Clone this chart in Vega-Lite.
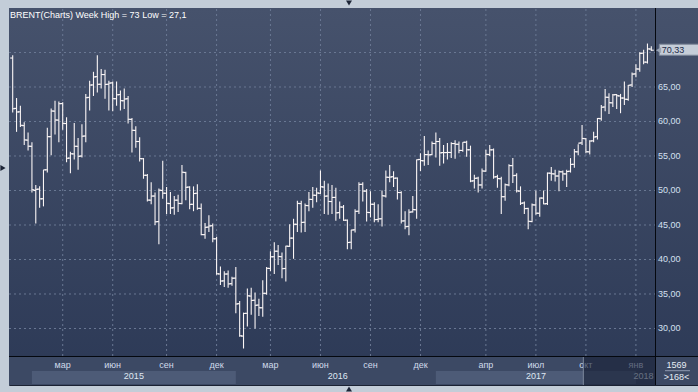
{
"$schema":"https://vega.github.io/schema/vega-lite/v6.json",
"width":689,"height":377,"autosize":"none",
"padding":{"left":9,"top":8,"right":0,"bottom":7},
"background":"#c3cdd8",
"config":{"view":{"stroke":"#1b2233","strokeWidth":1},"font":"Liberation Sans","locale":{"number":{"decimal":",","thousands":" ","grouping":[3],"currency":["",""]}}},
"datasets":{
"bars":[
{"n":0,"d":"2014-12-08","o":69.2,"h":69.6,"l":61.3,"c":61.85},
{"n":1,"d":"2014-12-15","o":61.9,"h":63.4,"l":58.5,"c":61.38},
{"n":2,"d":"2014-12-22","o":61.4,"h":62.3,"l":59.2,"c":59.45},
{"n":3,"d":"2014-12-29","o":59.4,"h":59.9,"l":56.6,"c":57.33},
{"n":4,"d":"2015-01-02","o":57.3,"h":58.4,"l":55.8,"c":56.42},
{"n":5,"d":"2015-01-05","o":56.4,"h":57.0,"l":49.7,"c":50.11},
{"n":6,"d":"2015-01-12","o":50.0,"h":50.8,"l":45.2,"c":50.17},
{"n":7,"d":"2015-01-19","o":50.2,"h":50.6,"l":47.5,"c":48.79},
{"n":8,"d":"2015-01-26","o":48.8,"h":53.0,"l":47.7,"c":52.99},
{"n":9,"d":"2015-02-02","o":53.0,"h":59.1,"l":52.6,"c":57.80},
{"n":10,"d":"2015-02-09","o":57.8,"h":61.9,"l":55.1,"c":61.52},
{"n":11,"d":"2015-02-16","o":61.5,"h":63.0,"l":58.1,"c":60.22},
{"n":12,"d":"2015-02-23","o":60.2,"h":62.9,"l":57.0,"c":62.58},
{"n":13,"d":"2015-03-02","o":62.6,"h":62.8,"l":58.8,"c":59.73},
{"n":14,"d":"2015-03-09","o":59.7,"h":60.6,"l":54.1,"c":54.67},
{"n":15,"d":"2015-03-16","o":54.7,"h":55.6,"l":52.5,"c":55.32},
{"n":16,"d":"2015-03-23","o":55.3,"h":59.8,"l":54.5,"c":56.41},
{"n":17,"d":"2015-03-30","o":56.4,"h":57.6,"l":53.0,"c":54.95},
{"n":18,"d":"2015-04-06","o":55.0,"h":59.6,"l":54.8,"c":57.87},
{"n":19,"d":"2015-04-13","o":57.9,"h":64.0,"l":57.0,"c":63.45},
{"n":20,"d":"2015-04-20","o":63.5,"h":65.9,"l":61.6,"c":65.28},
{"n":21,"d":"2015-04-27","o":65.3,"h":67.2,"l":63.7,"c":66.46},
{"n":22,"d":"2015-05-04","o":66.5,"h":69.6,"l":64.2,"c":65.39},
{"n":23,"d":"2015-05-11","o":65.4,"h":67.6,"l":64.8,"c":66.81},
{"n":24,"d":"2015-05-18","o":66.8,"h":67.5,"l":63.3,"c":65.37},
{"n":25,"d":"2015-05-25","o":65.4,"h":65.9,"l":61.6,"c":65.56},
{"n":26,"d":"2015-06-01","o":65.6,"h":65.8,"l":61.5,"c":63.31},
{"n":27,"d":"2015-06-08","o":63.3,"h":65.8,"l":62.3,"c":63.87},
{"n":28,"d":"2015-06-15","o":63.9,"h":64.5,"l":61.6,"c":63.02},
{"n":29,"d":"2015-06-22","o":63.0,"h":64.8,"l":61.8,"c":63.26},
{"n":30,"d":"2015-06-29","o":63.3,"h":63.7,"l":59.7,"c":60.32},
{"n":31,"d":"2015-07-06","o":60.3,"h":60.5,"l":55.5,"c":58.73},
{"n":32,"d":"2015-07-13","o":58.7,"h":59.3,"l":56.2,"c":57.10},
{"n":33,"d":"2015-07-20","o":57.1,"h":57.7,"l":54.2,"c":54.62},
{"n":34,"d":"2015-07-27","o":54.6,"h":54.7,"l":51.7,"c":52.21},
{"n":35,"d":"2015-08-03","o":52.2,"h":52.4,"l":48.4,"c":48.61},
{"n":36,"d":"2015-08-10","o":48.6,"h":51.2,"l":48.0,"c":49.19},
{"n":37,"d":"2015-08-17","o":49.2,"h":49.7,"l":45.0,"c":45.46},
{"n":38,"d":"2015-08-24","o":45.5,"h":50.3,"l":42.2,"c":50.05},
{"n":39,"d":"2015-08-31","o":50.0,"h":54.3,"l":48.8,"c":49.61},
{"n":40,"d":"2015-09-07","o":49.6,"h":50.5,"l":46.6,"c":48.14},
{"n":41,"d":"2015-09-14","o":48.1,"h":49.8,"l":46.6,"c":47.47},
{"n":42,"d":"2015-09-21","o":47.5,"h":49.2,"l":46.5,"c":48.60},
{"n":43,"d":"2015-09-28","o":48.6,"h":49.4,"l":46.9,"c":48.13},
{"n":44,"d":"2015-10-05","o":48.1,"h":53.7,"l":48.0,"c":52.65},
{"n":45,"d":"2015-10-12","o":52.6,"h":52.7,"l":48.6,"c":50.46},
{"n":46,"d":"2015-10-19","o":50.5,"h":50.6,"l":47.3,"c":47.99},
{"n":47,"d":"2015-10-26","o":48.0,"h":50.6,"l":47.0,"c":49.56},
{"n":48,"d":"2015-11-02","o":49.6,"h":50.9,"l":47.2,"c":47.42},
{"n":49,"d":"2015-11-09","o":47.4,"h":48.1,"l":43.5,"c":43.61},
{"n":50,"d":"2015-11-16","o":43.6,"h":45.3,"l":43.0,"c":44.66},
{"n":51,"d":"2015-11-23","o":44.7,"h":46.4,"l":44.0,"c":44.86},
{"n":52,"d":"2015-11-30","o":44.9,"h":45.2,"l":42.5,"c":43.00},
{"n":53,"d":"2015-12-07","o":43.0,"h":43.3,"l":37.8,"c":37.93},
{"n":54,"d":"2015-12-14","o":37.9,"h":39.0,"l":36.3,"c":36.88},
{"n":55,"d":"2015-12-21","o":36.9,"h":38.3,"l":36.0,"c":37.89},
{"n":56,"d":"2015-12-28","o":37.9,"h":38.4,"l":35.9,"c":36.46},
{"n":57,"d":"2015-12-31","o":36.5,"h":37.5,"l":36.2,"c":37.28},
{"n":58,"d":"2016-01-04","o":37.3,"h":38.9,"l":32.2,"c":33.55},
{"n":59,"d":"2016-01-11","o":33.6,"h":34.0,"l":28.8,"c":28.94},
{"n":60,"d":"2016-01-18","o":28.9,"h":32.3,"l":27.1,"c":32.18},
{"n":61,"d":"2016-01-25","o":32.2,"h":35.8,"l":30.3,"c":34.74},
{"n":62,"d":"2016-02-01","o":34.7,"h":35.9,"l":32.0,"c":34.06},
{"n":63,"d":"2016-02-08","o":34.1,"h":35.2,"l":30.0,"c":33.36},
{"n":64,"d":"2016-02-15","o":33.4,"h":34.3,"l":31.8,"c":33.01},
{"n":65,"d":"2016-02-22","o":33.0,"h":37.0,"l":31.7,"c":35.10},
{"n":66,"d":"2016-02-29","o":35.1,"h":38.9,"l":34.9,"c":38.72},
{"n":67,"d":"2016-03-07","o":38.7,"h":41.2,"l":38.3,"c":40.39},
{"n":68,"d":"2016-03-14","o":40.4,"h":42.5,"l":37.9,"c":41.20},
{"n":69,"d":"2016-03-21","o":41.2,"h":42.1,"l":39.2,"c":40.44},
{"n":70,"d":"2016-03-28","o":40.4,"h":41.0,"l":37.3,"c":38.67},
{"n":71,"d":"2016-04-04","o":38.7,"h":42.0,"l":36.8,"c":41.94},
{"n":72,"d":"2016-04-11","o":41.9,"h":45.1,"l":41.8,"c":43.10},
{"n":73,"d":"2016-04-18","o":43.1,"h":45.9,"l":40.1,"c":45.11},
{"n":74,"d":"2016-04-25","o":45.1,"h":48.5,"l":44.0,"c":48.13},
{"n":75,"d":"2016-05-02","o":48.1,"h":48.5,"l":43.9,"c":45.37},
{"n":76,"d":"2016-05-09","o":45.4,"h":48.1,"l":44.0,"c":47.83},
{"n":77,"d":"2016-05-16","o":47.8,"h":49.8,"l":47.0,"c":48.72},
{"n":78,"d":"2016-05-23","o":48.7,"h":50.5,"l":47.5,"c":49.32},
{"n":79,"d":"2016-05-30","o":49.3,"h":50.4,"l":48.3,"c":49.64},
{"n":80,"d":"2016-06-06","o":49.6,"h":52.9,"l":49.5,"c":50.54},
{"n":81,"d":"2016-06-13","o":50.5,"h":51.4,"l":46.6,"c":49.17},
{"n":82,"d":"2016-06-20","o":49.2,"h":51.0,"l":46.5,"c":48.41},
{"n":83,"d":"2016-06-27","o":48.4,"h":50.8,"l":46.6,"c":48.99},
{"n":84,"d":"2016-07-04","o":49.0,"h":50.4,"l":45.6,"c":46.76},
{"n":85,"d":"2016-07-11","o":46.8,"h":48.4,"l":45.9,"c":47.61},
{"n":86,"d":"2016-07-18","o":47.6,"h":47.9,"l":45.6,"c":45.69},
{"n":87,"d":"2016-07-25","o":45.7,"h":45.8,"l":41.5,"c":42.46},
{"n":88,"d":"2016-08-01","o":42.5,"h":44.3,"l":41.5,"c":44.27},
{"n":89,"d":"2016-08-08","o":44.3,"h":47.3,"l":43.9,"c":46.97},
{"n":90,"d":"2016-08-15","o":47.0,"h":51.2,"l":46.6,"c":50.88},
{"n":91,"d":"2016-08-22","o":50.9,"h":51.2,"l":48.4,"c":49.92},
{"n":92,"d":"2016-08-29","o":49.9,"h":50.2,"l":45.5,"c":46.83},
{"n":93,"d":"2016-09-05","o":46.8,"h":49.9,"l":46.1,"c":48.01},
{"n":94,"d":"2016-09-12","o":48.0,"h":48.3,"l":45.4,"c":45.77},
{"n":95,"d":"2016-09-19","o":45.8,"h":48.0,"l":45.4,"c":45.89},
{"n":96,"d":"2016-09-26","o":45.9,"h":50.0,"l":44.8,"c":49.24},
{"n":97,"d":"2016-10-03","o":49.2,"h":52.9,"l":49.0,"c":51.93},
{"n":98,"d":"2016-10-10","o":51.9,"h":53.7,"l":51.2,"c":51.95},
{"n":99,"d":"2016-10-17","o":52.0,"h":52.8,"l":50.5,"c":51.78},
{"n":100,"d":"2016-10-24","o":51.8,"h":51.9,"l":48.7,"c":49.71},
{"n":101,"d":"2016-10-31","o":49.7,"h":49.9,"l":45.2,"c":45.58},
{"n":102,"d":"2016-11-07","o":45.6,"h":47.0,"l":44.4,"c":44.75},
{"n":103,"d":"2016-11-14","o":44.8,"h":47.3,"l":43.5,"c":46.86},
{"n":104,"d":"2016-11-21","o":46.9,"h":49.2,"l":46.8,"c":47.24},
{"n":105,"d":"2016-11-28","o":47.2,"h":54.5,"l":45.9,"c":54.46},
{"n":106,"d":"2016-12-05","o":54.5,"h":55.4,"l":52.8,"c":54.33},
{"n":107,"d":"2016-12-12","o":54.3,"h":57.9,"l":53.6,"c":55.21},
{"n":108,"d":"2016-12-19","o":55.2,"h":55.8,"l":53.7,"c":55.16},
{"n":109,"d":"2016-12-26","o":55.2,"h":57.1,"l":55.1,"c":56.82},
{"n":110,"d":"2017-01-02","o":56.8,"h":58.4,"l":54.8,"c":57.10},
{"n":111,"d":"2017-01-09","o":57.1,"h":57.6,"l":53.6,"c":55.45},
{"n":112,"d":"2017-01-16","o":55.5,"h":56.6,"l":53.9,"c":55.49},
{"n":113,"d":"2017-01-23","o":55.5,"h":56.9,"l":54.5,"c":55.52},
{"n":114,"d":"2017-01-30","o":55.5,"h":57.0,"l":54.7,"c":56.81},
{"n":115,"d":"2017-02-06","o":56.8,"h":57.3,"l":54.6,"c":56.70},
{"n":116,"d":"2017-02-13","o":56.7,"h":57.1,"l":55.4,"c":55.81},
{"n":117,"d":"2017-02-20","o":55.8,"h":57.0,"l":55.6,"c":56.99},
{"n":118,"d":"2017-02-27","o":57.0,"h":57.2,"l":54.9,"c":55.90},
{"n":119,"d":"2017-03-06","o":55.9,"h":56.5,"l":51.2,"c":51.37},
{"n":120,"d":"2017-03-13","o":51.4,"h":52.3,"l":50.3,"c":51.76},
{"n":121,"d":"2017-03-20","o":51.8,"h":52.0,"l":49.7,"c":50.80},
{"n":122,"d":"2017-03-27","o":50.8,"h":53.2,"l":50.3,"c":52.83},
{"n":123,"d":"2017-04-03","o":52.8,"h":55.9,"l":52.7,"c":55.24},
{"n":124,"d":"2017-04-10","o":55.2,"h":56.6,"l":55.0,"c":55.89},
{"n":125,"d":"2017-04-17","o":55.9,"h":56.1,"l":51.7,"c":51.96},
{"n":126,"d":"2017-04-24","o":52.0,"h":52.3,"l":50.4,"c":51.73},
{"n":127,"d":"2017-05-01","o":51.7,"h":52.0,"l":46.6,"c":49.10},
{"n":128,"d":"2017-05-08","o":49.1,"h":51.0,"l":48.5,"c":50.84},
{"n":129,"d":"2017-05-15","o":50.8,"h":53.8,"l":50.6,"c":53.61},
{"n":130,"d":"2017-05-22","o":53.6,"h":54.7,"l":51.1,"c":52.15},
{"n":131,"d":"2017-05-29","o":52.2,"h":52.5,"l":49.7,"c":49.95},
{"n":132,"d":"2017-06-05","o":49.9,"h":50.6,"l":47.9,"c":48.15},
{"n":133,"d":"2017-06-12","o":48.2,"h":48.4,"l":46.6,"c":47.37},
{"n":134,"d":"2017-06-19","o":47.4,"h":47.5,"l":44.4,"c":45.54},
{"n":135,"d":"2017-06-26","o":45.5,"h":48.1,"l":45.4,"c":47.92},
{"n":136,"d":"2017-07-03","o":47.9,"h":50.0,"l":46.5,"c":46.71},
{"n":137,"d":"2017-07-10","o":46.7,"h":49.0,"l":46.2,"c":48.91},
{"n":138,"d":"2017-07-17","o":48.9,"h":50.0,"l":48.0,"c":48.06},
{"n":139,"d":"2017-07-24","o":48.1,"h":52.6,"l":47.9,"c":52.52},
{"n":140,"d":"2017-07-31","o":52.5,"h":53.4,"l":51.4,"c":52.42},
{"n":141,"d":"2017-08-07","o":52.4,"h":53.0,"l":51.3,"c":52.10},
{"n":142,"d":"2017-08-14","o":52.1,"h":52.9,"l":49.9,"c":52.72},
{"n":143,"d":"2017-08-21","o":52.7,"h":52.9,"l":51.4,"c":52.41},
{"n":144,"d":"2017-08-28","o":52.4,"h":53.0,"l":50.5,"c":52.75},
{"n":145,"d":"2017-09-04","o":52.8,"h":54.7,"l":52.6,"c":53.78},
{"n":146,"d":"2017-09-11","o":53.8,"h":56.0,"l":53.3,"c":55.62},
{"n":147,"d":"2017-09-18","o":55.6,"h":56.7,"l":55.1,"c":56.86},
{"n":148,"d":"2017-09-25","o":56.9,"h":59.5,"l":56.6,"c":57.54},
{"n":149,"d":"2017-10-02","o":57.5,"h":57.6,"l":55.4,"c":55.62},
{"n":150,"d":"2017-10-09","o":55.6,"h":57.3,"l":55.2,"c":57.17},
{"n":151,"d":"2017-10-16","o":57.2,"h":58.5,"l":57.0,"c":57.75},
{"n":152,"d":"2017-10-23","o":57.8,"h":60.5,"l":57.4,"c":60.44},
{"n":153,"d":"2017-10-30","o":60.4,"h":62.4,"l":60.1,"c":62.07},
{"n":154,"d":"2017-11-06","o":62.1,"h":64.7,"l":61.5,"c":63.52},
{"n":155,"d":"2017-11-13","o":63.5,"h":64.1,"l":61.1,"c":62.72},
{"n":156,"d":"2017-11-20","o":62.7,"h":64.0,"l":62.1,"c":63.86},
{"n":157,"d":"2017-11-27","o":63.9,"h":64.0,"l":61.8,"c":63.73},
{"n":158,"d":"2017-12-04","o":63.7,"h":64.0,"l":61.2,"c":63.40},
{"n":159,"d":"2017-12-11","o":63.4,"h":65.8,"l":62.4,"c":63.23},
{"n":160,"d":"2017-12-18","o":63.2,"h":65.3,"l":63.0,"c":65.25},
{"n":161,"d":"2017-12-25","o":65.3,"h":67.1,"l":65.0,"c":66.87},
{"n":162,"d":"2018-01-01","o":66.9,"h":68.3,"l":66.4,"c":67.62},
{"n":163,"d":"2018-01-08","o":67.6,"h":70.05,"l":67.2,"c":69.87},
{"n":164,"d":"2018-01-15","o":69.9,"h":70.4,"l":68.3,"c":68.61},
{"n":165,"d":"2018-01-22","o":68.6,"h":71.3,"l":68.4,"c":70.52},
{"n":166,"d":"2018-01-29","o":70.5,"h":70.9,"l":70.2,"c":70.33}
],
"months":[
{"n":13,"m":"мар"},{"n":26,"m":"июн"},{"n":40,"m":"сен"},{"n":53,"m":"дек"},
{"n":67,"m":"мар"},{"n":80,"m":"июн"},{"n":93,"m":"сен"},{"n":106,"m":"дек"},
{"n":123,"m":"апр"},{"n":136,"m":"июл"},{"n":149,"m":"окт"},{"n":162,"m":"янв"}
],
"years":[
{"year":"2015","from":5,"to":58,"mid":31.5},
{"year":"2016","from":58,"to":110,"mid":84.5},
{"year":"2017","from":110,"to":162,"mid":136},
{"year":"2018","from":162,"to":167,"mid":164}
],
"levels":[{"v":30},{"v":35},{"v":40},{"v":45},{"v":50},{"v":55},{"v":60},{"v":65},{"v":70}]
},
"layer":[
{"data":{"values":[{}]},
 "mark":{"type":"rect","fill":{"gradient":"linear","x1":0,"y1":0,"x2":0,"y2":1,"stops":[{"offset":0,"color":"#46526c"},{"offset":1,"color":"#2c3956"}]}},
 "encoding":{
  "x":{"datum":-0.96,"type":"quantitative","scale":{"domain":[-0.96,166.96],"range":[0,646],"nice":false,"zero":false},"axis":null},
  "x2":{"datum":178.2},
  "y":{"datum":76.449,"type":"quantitative","scale":{"domain":[26.014,76.449],"range":[348,0],"nice":false,"zero":false},"axis":null},
  "y2":{"datum":21.811}}},
{"data":{"values":[{}]},
 "mark":{"type":"rect","color":"#3c4964"},
 "encoding":{
  "x":{"datum":-0.96,"type":"quantitative","scale":{"domain":[-0.96,166.96],"range":[0,646],"nice":false,"zero":false},"axis":null},
  "x2":{"datum":178.2},
  "y":{"datum":25.942,"type":"quantitative","scale":{"domain":[26.014,76.449],"range":[348,0],"nice":false,"zero":false},"axis":null},
  "y2":{"datum":21.811}}},
{"data":{"name":"levels"},
 "mark":{"type":"rule","color":"#6a7893","strokeDash":[2,3],"strokeWidth":1},
 "encoding":{
  "y":{"field":"v","type":"quantitative","scale":{"domain":[26.014,76.449],"range":[348,0],"nice":false,"zero":false},"axis":null},
  "x":{"datum":-0.96,"type":"quantitative","scale":{"domain":[-0.96,166.96],"range":[0,646],"nice":false,"zero":false},"axis":null},
  "x2":{"datum":166.96}}},
{"data":{"name":"levels"},
 "transform":[{"filter":"datum.v <= 65"}],
 "mark":{"type":"text","align":"left","baseline":"middle","fontSize":9,"color":"#d4e0f0"},
 "encoding":{
  "y":{"field":"v","type":"quantitative","scale":{"domain":[26.014,76.449],"range":[348,0],"nice":false,"zero":false},"axis":null},
  "x":{"datum":167.74,"type":"quantitative","scale":{"domain":[-0.96,166.96],"range":[0,646],"nice":false,"zero":false},"axis":null},
  "text":{"field":"v","type":"quantitative","format":".2f"}}},
{"data":{"name":"months"},
 "mark":{"type":"rule","color":"#6a7893","strokeDash":[2,3],"strokeWidth":1},
 "encoding":{
  "x":{"field":"n","type":"quantitative","scale":{"domain":[-0.96,166.96],"range":[0,646],"nice":false,"zero":false},"axis":null},
  "y":{"datum":26.014,"type":"quantitative","scale":{"domain":[26.014,76.449],"range":[348,0],"nice":false,"zero":false},"axis":null},
  "y2":{"datum":76.449}}},
{"data":{"name":"years"},
 "transform":[{"filter":"datum.year == '2015' || datum.year == '2017'"}],
 "mark":{"type":"rect","color":"#4d5b77"},
 "encoding":{
  "x":{"field":"from","type":"quantitative","scale":{"domain":[-0.96,166.96],"range":[0,646],"nice":false,"zero":false},"axis":null},
  "x2":{"field":"to"},
  "y":{"datum":23.84,"type":"quantitative","scale":{"domain":[26.014,76.449],"range":[348,0],"nice":false,"zero":false},"axis":null},
  "y2":{"datum":21.956}}},
{"data":{"name":"years"},
 "mark":{"type":"text","align":"center","baseline":"alphabetic","fontSize":9,"color":"#dfe7f2"},
 "encoding":{
  "x":{"field":"mid","type":"quantitative","scale":{"domain":[-0.96,166.96],"range":[0,646],"nice":false,"zero":false},"axis":null},
  "y":{"datum":22.637,"type":"quantitative","scale":{"domain":[26.014,76.449],"range":[348,0],"nice":false,"zero":false},"axis":null},
  "text":{"field":"year"}}},
{"data":{"name":"months"},
 "mark":{"type":"text","align":"center","baseline":"alphabetic","fontSize":9,"color":"#d0dbeb"},
 "encoding":{
  "x":{"field":"n","type":"quantitative","scale":{"domain":[-0.96,166.96],"range":[0,646],"nice":false,"zero":false},"axis":null},
  "y":{"datum":24.232,"type":"quantitative","scale":{"domain":[26.014,76.449],"range":[348,0],"nice":false,"zero":false},"axis":null},
  "text":{"field":"m"}}},
{"data":{"values":[{}]},
 "mark":{"type":"rect","color":"#161e33","opacity":0.6},
 "encoding":{
  "x":{"datum":148.33,"type":"quantitative","scale":{"domain":[-0.96,166.96],"range":[0,646],"nice":false,"zero":false},"axis":null},
  "x2":{"datum":166.96},
  "y":{"datum":25.869,"type":"quantitative","scale":{"domain":[26.014,76.449],"range":[348,0],"nice":false,"zero":false},"axis":null},
  "y2":{"datum":21.811}}},
{"data":{"values":[{}]},
 "mark":{"type":"rule","color":"#7b879c","strokeWidth":1},
 "encoding":{
  "x":{"datum":148.33,"type":"quantitative","scale":{"domain":[-0.96,166.96],"range":[0,646],"nice":false,"zero":false},"axis":null},
  "y":{"datum":25.869,"type":"quantitative","scale":{"domain":[26.014,76.449],"range":[348,0],"nice":false,"zero":false},"axis":null},
  "y2":{"datum":21.811}}},
{"data":{"name":"bars"},
 "mark":{"type":"rule","color":"#fbf6f6","strokeWidth":1.1},
 "encoding":{
  "x":{"field":"n","type":"quantitative","scale":{"domain":[-0.96,166.96],"range":[0,646],"nice":false,"zero":false},"axis":null},
  "y":{"field":"l","type":"quantitative","scale":{"domain":[26.014,76.449],"range":[348,0],"nice":false,"zero":false},"axis":null},
  "y2":{"field":"h"}}},
{"data":{"name":"bars"},
 "mark":{"type":"rule","color":"#fbf6f6","strokeWidth":1.1,"xOffset":-2.5,"x2Offset":0},
 "encoding":{
  "x":{"field":"n","type":"quantitative","scale":{"domain":[-0.96,166.96],"range":[0,646],"nice":false,"zero":false},"axis":null},
  "x2":{"field":"n"},
  "y":{"field":"o","type":"quantitative","scale":{"domain":[26.014,76.449],"range":[348,0],"nice":false,"zero":false},"axis":null}}},
{"data":{"name":"bars"},
 "mark":{"type":"rule","color":"#fbf6f6","strokeWidth":1.1,"xOffset":0,"x2Offset":2.5},
 "encoding":{
  "x":{"field":"n","type":"quantitative","scale":{"domain":[-0.96,166.96],"range":[0,646],"nice":false,"zero":false},"axis":null},
  "x2":{"field":"n"},
  "y":{"field":"c","type":"quantitative","scale":{"domain":[26.014,76.449],"range":[348,0],"nice":false,"zero":false},"axis":null}}},
{"data":{"values":[{}]},
 "mark":{"type":"rule","color":"#05080f","strokeWidth":1},
 "encoding":{
  "x":{"datum":167.09,"type":"quantitative","scale":{"domain":[-0.96,166.96],"range":[0,646],"nice":false,"zero":false},"axis":null}}},
{"data":{"values":[{}]},
 "mark":{"type":"rule","color":"#05080f","strokeWidth":1},
 "encoding":{
  "y":{"datum":25.942,"type":"quantitative","scale":{"domain":[26.014,76.449],"range":[348,0],"nice":false,"zero":false},"axis":null}}},
{"data":{"values":[{}]},
 "mark":{"type":"text","align":"left","baseline":"alphabetic","fontSize":9,"color":"#ffffff","dx":1,"dy":10.3,"text":"BRENT(Charts) Week High = 73 Low = 27,1"},
 "encoding":{
  "x":{"datum":-0.96,"type":"quantitative","scale":{"domain":[-0.96,166.96],"range":[0,646],"nice":false,"zero":false},"axis":null},
  "y":{"datum":76.449,"type":"quantitative","scale":{"domain":[26.014,76.449],"range":[348,0],"nice":false,"zero":false},"axis":null}}},
{"data":{"name":"bars"},
 "transform":[{"filter":"datum.n == 166"}],
 "mark":{"type":"rect","fill":"#c5cdd8","stroke":"#7d889a","strokeWidth":1,"yOffset":-6,"y2Offset":5},
 "encoding":{
  "x":{"datum":168.08,"type":"quantitative","scale":{"domain":[-0.96,166.96],"range":[0,646],"nice":false,"zero":false},"axis":null},
  "x2":{"datum":179.5},
  "y":{"field":"c","type":"quantitative","scale":{"domain":[26.014,76.449],"range":[348,0],"nice":false,"zero":false},"axis":null},
  "y2":{"field":"c"}}},
{"data":{"name":"bars"},
 "transform":[{"filter":"datum.n == 166"}],
 "mark":{"type":"point","shape":"triangle-left","filled":true,"size":36,"color":"#9aa5b6","opacity":1},
 "encoding":{
  "x":{"datum":167.87,"type":"quantitative","scale":{"domain":[-0.96,166.96],"range":[0,646],"nice":false,"zero":false},"axis":null},
  "y":{"field":"c","type":"quantitative","scale":{"domain":[26.014,76.449],"range":[348,0],"nice":false,"zero":false},"axis":null}}},
{"data":{"name":"bars"},
 "transform":[{"filter":"datum.n == 166"}],
 "mark":{"type":"text","align":"left","baseline":"middle","fontSize":9,"color":"#1b2a48"},
 "encoding":{
  "x":{"datum":168.7,"type":"quantitative","scale":{"domain":[-0.96,166.96],"range":[0,646],"nice":false,"zero":false},"axis":null},
  "y":{"field":"c","type":"quantitative","scale":{"domain":[26.014,76.449],"range":[348,0],"nice":false,"zero":false},"axis":null},
  "text":{"field":"c","type":"quantitative","format":".2f"}}},
{"data":{"values":[{}]},
 "mark":{"type":"text","align":"center","baseline":"alphabetic","fontSize":9,"color":"#e6ecf5","text":"1569"},
 "encoding":{
  "x":{"datum":172.55,"type":"quantitative","scale":{"domain":[-0.96,166.96],"range":[0,646],"nice":false,"zero":false},"axis":null},
  "y":{"datum":24.232,"type":"quantitative","scale":{"domain":[26.014,76.449],"range":[348,0],"nice":false,"zero":false},"axis":null}}},
{"data":{"values":[{}]},
 "mark":{"type":"text","align":"center","baseline":"alphabetic","fontSize":9,"color":"#e6ecf5","text":">168<"},
 "encoding":{
  "x":{"datum":172.55,"type":"quantitative","scale":{"domain":[-0.96,166.96],"range":[0,646],"nice":false,"zero":false},"axis":null},
  "y":{"datum":22.535,"type":"quantitative","scale":{"domain":[26.014,76.449],"range":[348,0],"nice":false,"zero":false},"axis":null}}},
{"data":{"values":[{}]},
 "mark":{"type":"rule","color":"#8f9bb0","strokeWidth":1},
 "encoding":{
  "x":{"datum":169.56,"type":"quantitative","scale":{"domain":[-0.96,166.96],"range":[0,646],"nice":false,"zero":false},"axis":null},
  "x2":{"datum":176.06},
  "y":{"datum":23.884,"type":"quantitative","scale":{"domain":[26.014,76.449],"range":[348,0],"nice":false,"zero":false},"axis":null}}},
{"data":{"values":[{}]},
 "mark":{"type":"point","shape":"triangle-right","filled":true,"size":36,"color":"#1c2436","opacity":1},
 "encoding":{
  "x":{"datum":-2.52,"type":"quantitative","scale":{"domain":[-0.96,166.96],"range":[0,646],"nice":false,"zero":false},"axis":null},
  "y":{"datum":53.26,"type":"quantitative","scale":{"domain":[26.014,76.449],"range":[348,0],"nice":false,"zero":false},"axis":null}}},
{"data":{"values":[{}]},
 "mark":{"type":"point","shape":"triangle-down","filled":true,"size":36,"color":"#1c2436","opacity":1},
 "encoding":{
  "x":{"datum":87.42,"type":"quantitative","scale":{"domain":[-0.96,166.96],"range":[0,646],"nice":false,"zero":false},"axis":null},
  "y":{"datum":77.174,"type":"quantitative","scale":{"domain":[26.014,76.449],"range":[348,0],"nice":false,"zero":false},"axis":null}}},
{"data":{"values":[{}]},
 "mark":{"type":"point","shape":"triangle-up","filled":true,"size":36,"color":"#1c2436","opacity":1},
 "encoding":{
  "x":{"datum":87.42,"type":"quantitative","scale":{"domain":[-0.96,166.96],"range":[0,646],"nice":false,"zero":false},"axis":null},
  "y":{"datum":21.23,"type":"quantitative","scale":{"domain":[26.014,76.449],"range":[348,0],"nice":false,"zero":false},"axis":null}}}
]
}
